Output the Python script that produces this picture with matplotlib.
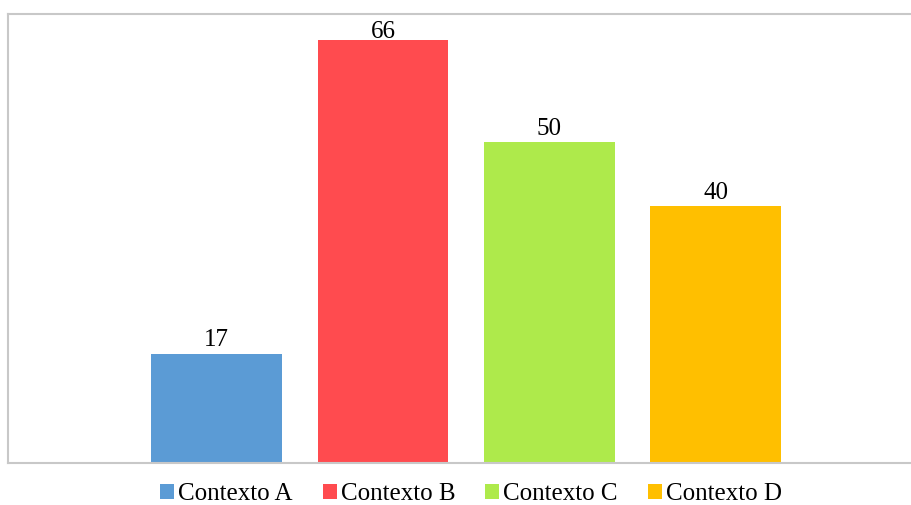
import matplotlib
matplotlib.use("Agg")
from matplotlib import pyplot as plt
from matplotlib.patches import Patch

categories = ["Contexto A", "Contexto B", "Contexto C", "Contexto D"]
values = [17, 66, 50, 40]
colors = ["#5B9BD5", "#FF4B4F", "#AEEA4B", "#FFBF00"]

plt.rcParams['font.family'] = ['Liberation Serif', 'DejaVu Serif']

fig = plt.figure(figsize=(9.12, 5.05), dpi=100)
ax = fig.add_axes([8 / 912, 1 - 463 / 505, 1 - 8 / 912, (463 - 14) / 505])

ymax = 70
x = list(range(len(categories)))
bars = ax.bar(x, values, width=0.785, color=colors, zorder=2)
for b, v in zip(bars, values):
    # keep labels inside the plot area, like Excel does for the tallest bar
    off = 2 if v < ymax - 6 else -2.5
    ax.annotate(str(v), (b.get_x() + b.get_width() / 2, v), xytext=(0, off),
                textcoords="offset points", ha="center", va="bottom", fontsize=18,
                zorder=3)

ax.set_xlim(-1.254, 4.18)
ax.set_ylim(0, ymax)
ax.set_xticks([])
ax.set_yticks([])
for side in ["left", "top", "bottom"]:
    ax.spines[side].set_color("#C8C8C8")
    ax.spines[side].set_linewidth(1.5)
ax.spines["right"].set_visible(False)

handles = [Patch(facecolor=c, label=l) for c, l in zip(colors, categories)]
fig.legend(handles=handles, loc="center", bbox_to_anchor=(471 / 912, 1 - 494 / 505),
           ncol=4, frameon=False, fontsize=18, handlelength=0.56, handleheight=0.56,
           handletextpad=0.16, columnspacing=1.2, borderpad=0)

fig.savefig("out.png", dpi=100)
